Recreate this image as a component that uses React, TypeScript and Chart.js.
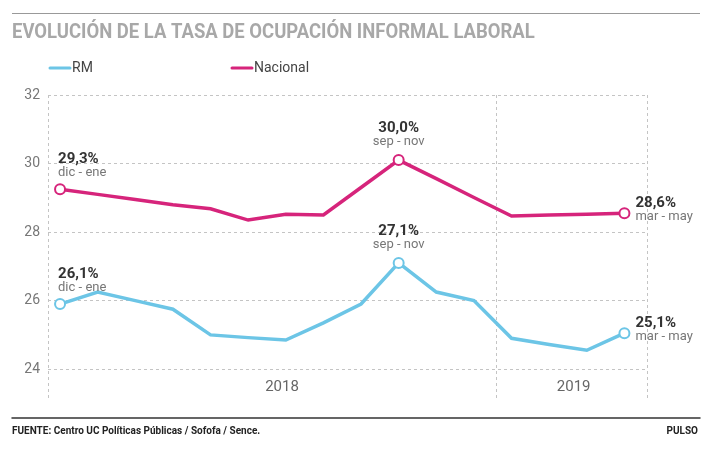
import React, { useEffect, useRef } from "react";
import { Chart, registerables } from "chart.js";
Chart.register(...registerables);

const periods = ["dic - ene","ene - mar","feb - abr","mar - may","abr - jun","may - jul","jun - ago","jul - sep","ago - oct","sep - nov","oct - dic","nov - ene","dic - feb","ene - mar","feb - abr","mar - may"];
const rmValues = [25.9, 26.25, 26.0, 25.75, 25.0, 24.92, 24.85, 25.35, 25.9, 27.1, 26.25, 26.0, 24.9, 24.72, 24.55, 25.05];
const nacValues = [29.25, 29.1, 28.95, 28.8, 28.68, 28.35, 28.52, 28.5, 29.3, 30.1, 29.56, 29.01, 28.47, 28.5, 28.52, 28.55];
const yTicks = [24, 26, 28, 30, 32];
const gridPositions = [-0.32, 11.6, 15.6];
const yearLabels = [{ label: "2018", pos: 5.9 }, { label: "2019", pos: 13.65 }];
const highlight = [0, 9, 15];
const annotations = [
  { ds: 1, i: 0, value: "29,3%", sub: "dic - ene", mode: "left" },
  { ds: 1, i: 9, value: "30,0%", sub: "sep - nov", mode: "top" },
  { ds: 1, i: 15, value: "28,6%", sub: "mar - may", mode: "right" },
  { ds: 0, i: 0, value: "26,1%", sub: "dic - ene", mode: "left" },
  { ds: 0, i: 9, value: "27,1%", sub: "sep - nov", mode: "top" },
  { ds: 0, i: 15, value: "25,1%", sub: "mar - may", mode: "right" },
];

const RM = "#6cc5e6";
const NAC = "#d6247b";
const FONT = "'Roboto', sans-serif";

const decor = {
  id: "decor",
  afterDraw(chart: any) {
    const ctx = chart.ctx;
    const xs = chart.scales.x;
    ctx.save();
    ctx.strokeStyle = "#999"; ctx.lineWidth = 1;
    ctx.beginPath(); ctx.moveTo(12, 13.5); ctx.lineTo(700, 13.5); ctx.stroke();
    ctx.save();
    ctx.scale(0.88, 1);
    ctx.fillStyle = "#a8a8a8";
    ctx.font = `bold 21px ${FONT}`;
    ctx.textBaseline = "middle"; ctx.textAlign = "left";
    ctx.fillText("EVOLUCIÓN DE LA TASA DE OCUPACIÓN INFORMAL LABORAL", 12 / 0.88, 33);
    ctx.restore();
    ctx.textBaseline = "middle";
    const leg = [{ c: RM, t: "RM", x: 50 }, { c: NAC, t: "Nacional", x: 232 }];
    ctx.font = `14px ${FONT}`;
    leg.forEach((l) => {
      ctx.strokeStyle = l.c; ctx.lineWidth = 3; ctx.lineCap = "round";
      ctx.beginPath(); ctx.moveTo(l.x, 68); ctx.lineTo(l.x + 20, 68); ctx.stroke();
      ctx.fillStyle = "#444"; ctx.textAlign = "left"; ctx.fillText(l.t, l.x + 22, 68);
    });
    ctx.font = `15px ${FONT}`; ctx.fillStyle = "#666"; ctx.textAlign = "center";
    yearLabels.forEach((y) => ctx.fillText(y.label, xs.getPixelForValue(y.pos), 387));
    annotations.forEach((a) => {
      const pt = chart.getDatasetMeta(a.ds).data[a.i];
      let x = pt.x, y1, y2;
      if (a.mode === "left") { ctx.textAlign = "left"; x = pt.x - 2; y1 = pt.y - 30; y2 = pt.y - 16; }
      else if (a.mode === "top") { ctx.textAlign = "center"; y1 = pt.y - 32; y2 = pt.y - 18; }
      else { ctx.textAlign = "left"; x = pt.x + 11; y1 = pt.y - 10; y2 = pt.y + 4; }
      ctx.fillStyle = "#333"; ctx.font = `bold 15px ${FONT}`;
      ctx.fillText(a.value, x, y1);
      ctx.fillStyle = "#777"; ctx.font = `13px ${FONT}`;
      ctx.fillText(a.sub, x, y2);
    });
    ctx.strokeStyle = "#333"; ctx.lineWidth = 1.5;
    ctx.beginPath(); ctx.moveTo(12, 418); ctx.lineTo(700, 418); ctx.stroke();
    ctx.fillStyle = "#222"; ctx.font = `bold 10px ${FONT}`; ctx.textAlign = "left";
    ctx.fillText("FUENTE: Centro UC Políticas Públicas / Sofofa / Sence.", 12, 431);
    ctx.textAlign = "right"; ctx.fillText("PULSO", 698, 431);
    ctx.restore();
  },
};

export default function App() {
  const ref = useRef<HTMLCanvasElement>(null);
  useEffect(() => {
    const mk = (vals: number[]) => vals.map((v, i) => ({ x: i, y: v }));
    const ptR = (ctx: any) => (highlight.includes(ctx.dataIndex) ? 5 : 0);
    const chart = new Chart(ref.current!, {
      type: "line",
      data: {
        datasets: [
          { label: "RM", data: mk(rmValues), borderColor: RM, borderWidth: 3.5, pointRadius: ptR, pointBackgroundColor: "#fff", pointBorderColor: RM, pointBorderWidth: 2, tension: 0 },
          { label: "Nacional", data: mk(nacValues), borderColor: NAC, borderWidth: 3.5, pointRadius: ptR, pointBackgroundColor: "#fff", pointBorderColor: NAC, pointBorderWidth: 2, tension: 0 },
        ],
      },
      plugins: [decor],
      options: {
        animation: false,
        responsive: false,
        layout: { padding: { top: 95, right: 71, left: 0, bottom: 0 } },
        plugins: { legend: { display: false }, tooltip: { enabled: false } },
        scales: {
          x: {
            type: "linear", min: -0.32, max: 15.6,
            afterBuildTicks: (s: any) => { s.ticks = gridPositions.map((v) => ({ value: v })); },
            afterFit: (s: any) => { s.height = 49; },
            ticks: { display: false },
            border: { display: false, dash: [3, 3] },
            grid: { color: "#c4c4c4", lineWidth: 1, drawTicks: false },
          },
          y: {
            min: 23.1, max: 32,
            afterBuildTicks: (s: any) => { s.ticks = yTicks.map((v) => ({ value: v })); },
            afterFit: (s: any) => { s.width = 48; },
            ticks: { color: "#777", font: { family: FONT, size: 14 }, padding: 8 },
            border: { display: false, dash: [3, 3] },
            grid: { color: "#c4c4c4", drawTicks: false },
          },
        },
      } as any,
    });
    return () => chart.destroy();
  }, []);
  return (
    <div style={{ position: "fixed", left: 0, top: 0, width: 718, height: 449, background: "#fff" }}>
      <canvas ref={ref} width={718} height={449} style={{ width: 718, height: 449 }} />
    </div>
  );
}
